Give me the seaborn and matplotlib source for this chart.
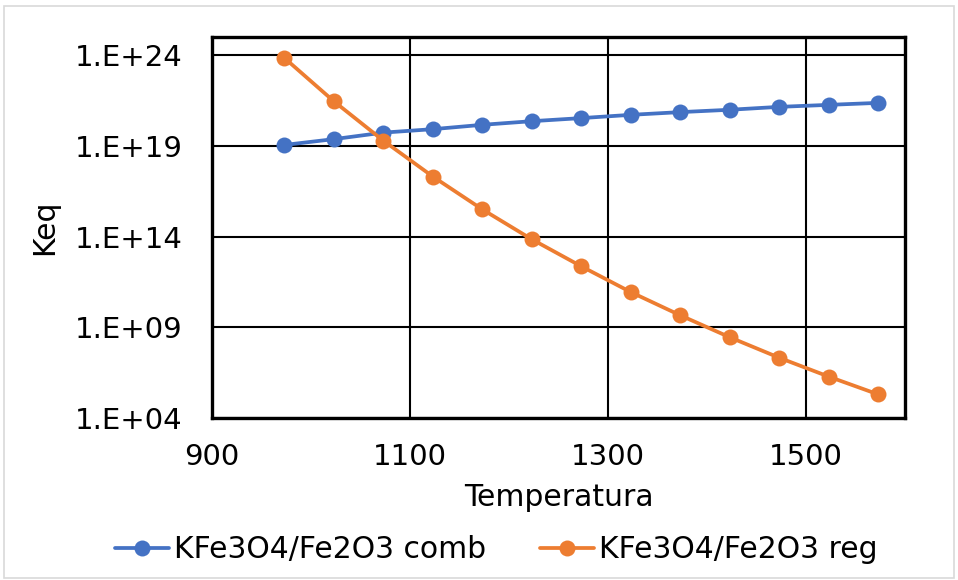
import numpy as np
import pandas as pd
import seaborn as sns
import matplotlib.pyplot as plt
from matplotlib.ticker import FixedLocator, FuncFormatter, NullLocator
from matplotlib.patches import Rectangle

# Temperatures (K) and log10(Keq)
temperatura = [973, 1023, 1073, 1123, 1173, 1223, 1273, 1323, 1373, 1423, 1473, 1523, 1573]
log_keq_comb = [19.05, 19.37, 19.73, 19.92, 20.16, 20.36, 20.53, 20.71, 20.86, 20.99, 21.15, 21.26, 21.37]
log_keq_reg = [23.85, 21.46, 19.29, 17.31, 15.50, 13.85, 12.36, 10.94, 9.66, 8.45, 7.32, 6.28, 5.30]
series_names = ["KFe3O4/Fe2O3 comb", "KFe3O4/Fe2O3 reg"]
colors = {"KFe3O4/Fe2O3 comb": "#4472C4", "KFe3O4/Fe2O3 reg": "#ED7D31"}

df = pd.concat([
    pd.DataFrame({"Temperatura": temperatura, "Keq": 10.0 ** np.array(log_keq_comb), "serie": series_names[0]}),
    pd.DataFrame({"Temperatura": temperatura, "Keq": 10.0 ** np.array(log_keq_reg), "serie": series_names[1]}),
])

sns.set_style("white")
plt.rcParams['font.family'] = ['DejaVu Sans']
plt.rcParams['text.color'] = 'black'
plt.rcParams['axes.labelcolor'] = 'black'
plt.rcParams['xtick.color'] = 'black'
plt.rcParams['ytick.color'] = 'black'

fig = plt.figure(figsize=(9.58, 5.8), dpi=100)
ax = fig.add_axes([0.2213, 0.2793, 0.7234, 0.6569])

sns.lineplot(data=df, x="Temperatura", y="Keq", hue="serie", palette=colors,
             marker="o", markersize=11.5, markeredgewidth=0, linewidth=2.7, ax=ax)

ax.set_yscale("log")
ax.set_xlim(900, 1600)
ax.set_ylim(1e4, 1e25)
ax.xaxis.set_major_locator(FixedLocator([900, 1100, 1300, 1500]))
ax.yaxis.set_major_locator(FixedLocator([1e4, 1e9, 1e14, 1e19, 1e24]))
ax.yaxis.set_minor_locator(NullLocator())
ax.yaxis.set_major_formatter(FuncFormatter(lambda v, p: f"1.E+{int(round(np.log10(v))):02d}"))

ax.grid(True, color="black", linewidth=1.5)
ax.set_axisbelow(True)
for s in ax.spines.values():
    s.set_color("black")
    s.set_linewidth(2.4)

ax.tick_params(axis="both", length=0, labelsize=21)
ax.tick_params(axis="x", pad=18)
ax.tick_params(axis="y", pad=21)
ax.set_xlabel("Temperatura", fontsize=21.5)
ax.set_ylabel("Keq", fontsize=21.5)
ax.xaxis.set_label_coords(0.5, -0.171)
ax.yaxis.set_label_coords(-0.22, 0.5)

handles, labels = ax.get_legend_handles_labels()
ax.legend(handles, labels, loc="center", bbox_to_anchor=(0.518, 0.052), bbox_transform=fig.transFigure,
          ncol=2, frameon=False, fontsize=21.5, handlelength=1.8, columnspacing=1.8, handletextpad=0.17)

fig.patches.append(Rectangle((0.004, 0.004), 0.992, 0.985, transform=fig.transFigure,
                             fill=False, edgecolor="#D9D9D9", linewidth=1.2))

fig.savefig("out.png", dpi=100)
